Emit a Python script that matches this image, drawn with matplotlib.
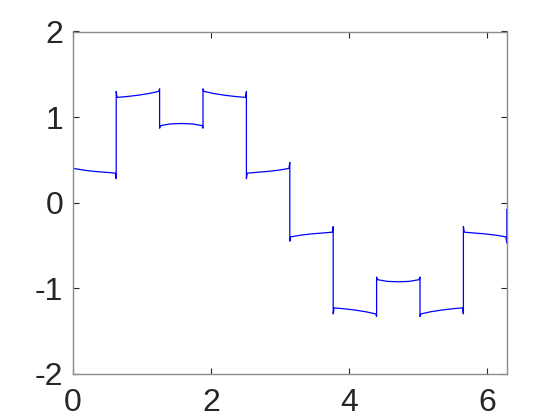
import numpy as np
import matplotlib
matplotlib.use('Agg')
import matplotlib.pyplot as plt

matplotlib.rcParams['font.family'] = ['Liberation Sans', 'DejaVu Sans']
matplotlib.rcParams['axes.unicode_minus'] = False

# ten equal steps over one period
n_seg = 10
x_max = 2 * np.pi
# fraction positions inside a step where values were read
seg_frac = [0.0, 0.02, 0.25, 0.5, 0.75, 0.98, 1.0]

# overshoot at the start of each step, read values across it, overshoot at its end
start_spike = [0.45, 1.30, 0.87, 1.33, 0.28, -0.45, -1.30, -0.87, -1.33, -0.28]
seg_vals = [
    [0.40, 0.38, 0.365, 0.355, 0.345],
    [1.23, 1.24, 1.255, 1.275, 1.30],
    [0.90, 0.92, 0.925, 0.92, 0.90],
    [1.30, 1.275, 1.255, 1.24, 1.23],
    [0.345, 0.355, 0.365, 0.38, 0.40],
    [-0.40, -0.38, -0.365, -0.355, -0.345],
    [-1.23, -1.24, -1.255, -1.275, -1.30],
    [-0.90, -0.92, -0.925, -0.92, -0.90],
    [-1.30, -1.275, -1.255, -1.24, -1.23],
    [-0.345, -0.355, -0.365, -0.38, -0.40],
]
end_spike = [0.28, 1.33, 0.87, 1.30, 0.47, -0.28, -1.33, -0.87, -1.30, -0.47]
y_first = 0.0
y_last = -0.08

xs = [0.0]
ys = [y_first]
w = x_max / n_seg
for k in range(n_seg):
    vals = [start_spike[k]] + seg_vals[k] + [end_spike[k]]
    for f, v in zip(seg_frac, vals):
        xs.append(k * w + f * w)
        ys.append(v)
xs.append(x_max)
ys.append(y_last)

fig = plt.figure(figsize=(5.6, 4.2), dpi=100)
ax = fig.add_axes([0.13, 0.11, 0.775, 0.815])
ax.plot(xs, ys, color='#0000ff', linewidth=0.9)
ax.set_xlim(0, x_max)
ax.set_ylim(-2, 2)
ax.set_xticks([0, 2, 4, 6])
ax.set_yticks([-2, -1, 0, 1, 2])
for s in ax.spines.values():
    s.set_color('#8c8c8c')
    s.set_linewidth(1.0)
ax.tick_params(direction='in', top=True, right=True, length=4, width=0.8,
               color='#262626', labelsize=23, labelcolor='#262626')
ax.tick_params(axis='x', pad=10)
ax.tick_params(axis='y', pad=7)

plt.savefig('out.png', dpi=100)
